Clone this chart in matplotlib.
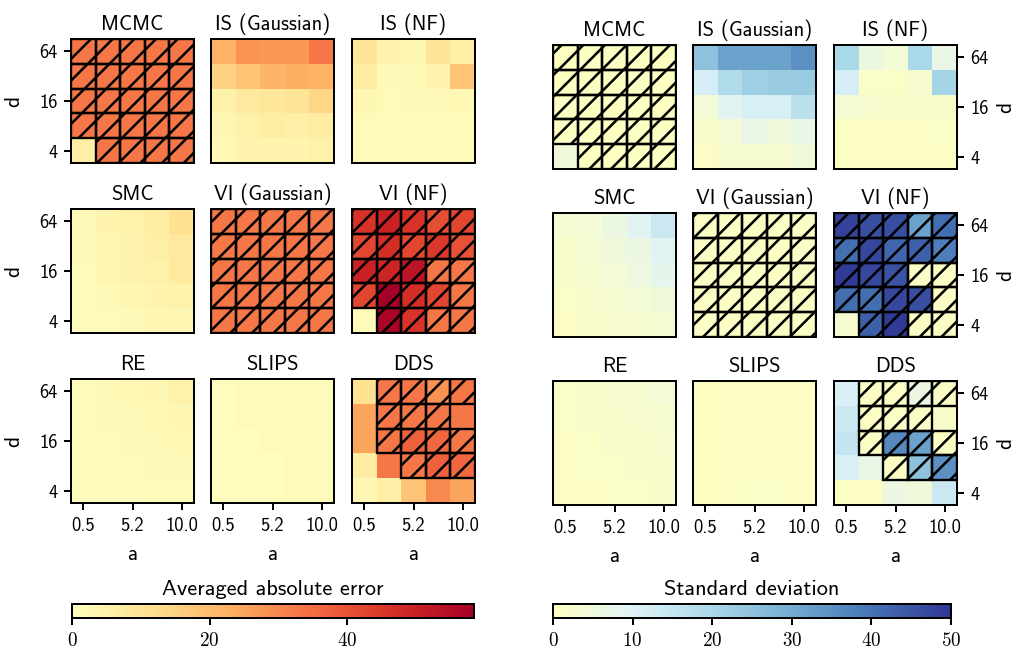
import numpy as np
import matplotlib
matplotlib.use("Agg")
import matplotlib.pyplot as plt
from matplotlib.colors import LinearSegmentedColormap
from matplotlib.patches import Rectangle

# axes values
a_ticks = ["0.5", "5.2", "10.0"]   # shown at columns 0, 2, 4
d_ticks = ["64", "16", "4"]        # shown at rows 0, 2, 4 (top row = d=64)

methods = ["MCMC", "IS (Gaussian)", "IS (NF)",
           "SMC", "VI (Gaussian)", "VI (NF)",
           "RE", "SLIPS", "DDS"]

# averaged absolute error, rows from d=64 (top) down to d=4
err_mcmc = [[33, 33, 33, 33, 33],
            [33, 33, 33, 33, 33],
            [33, 33, 33, 33, 33],
            [33, 33, 33, 33, 33],
            [6, 33, 33, 33, 33]]
err_is_gauss = [[22, 28, 27, 27, 33],
                [15, 18, 21, 23, 22],
                [5, 8, 9, 10, 14],
                [3, 5, 7, 6, 7],
                [2, 4, 4, 4, 5]]
err_is_nf = [[10, 4, 3, 10, 6],
             [7, 2, 2, 4, 18],
             [3, 1.5, 2, 2, 2.5],
             [1.5, 1.5, 1.5, 1.5, 1.5],
             [1, 1, 1, 1, 1]]
err_smc = [[2, 4, 5, 7, 11],
           [2, 3, 4, 6, 8],
           [1.5, 3, 4, 5, 8],
           [1.5, 2, 3, 4, 5],
           [1, 1.5, 2, 3, 3]]
err_vi_gauss = [[33, 33, 33, 33, 33],
                [33, 33, 33, 33, 33],
                [33, 33, 33, 33, 33],
                [33, 33, 33, 33, 33],
                [33, 33, 33, 33, 33]]
err_vi_nf = [[46, 50, 46, 41, 42],
             [42, 47, 42, 45, 40],
             [50, 49, 53, 33, 33],
             [42, 58, 47, 42, 33],
             [1, 57, 46, 33, 33]]
err_re = [[1.5, 2, 2.5, 3, 5],
          [1.5, 2, 2, 2.5, 3],
          [1, 1.5, 2, 2, 2.5],
          [1, 1, 1.5, 2, 2],
          [1, 1, 1, 1.5, 1.5]]
err_slips = [[0.8, 1, 1, 1, 1.2],
             [0.8, 1, 1, 1, 1],
             [0.8, 0.8, 1, 1, 1],
             [0.6, 0.8, 0.8, 1, 1],
             [0.6, 0.8, 0.8, 1.5, 1.2]]
err_dds = [[11, 33, 33, 28, 33],
           [25, 33, 33, 33, 33],
           [25, 33, 37, 36, 33],
           [7, 33, 33, 37, 36],
           [3, 6, 18, 30, 25]]

# standard deviation
std_mcmc = [[0.5, 0.5, 0.5, 0.5, 0.5],
            [0.5, 0.5, 0.5, 0.5, 0.5],
            [0.5, 0.5, 0.5, 0.5, 0.5],
            [0.5, 0.5, 0.5, 0.5, 0.5],
            [5, 0.5, 0.5, 0.5, 0.5]]
std_is_gauss = [[25, 32, 32, 32, 35],
                [12, 19, 22, 23, 23],
                [4, 9, 11, 11, 17],
                [2, 4, 7, 5, 7],
                [1, 3, 3, 3, 5]]
std_is_nf = [[20, 6, 4, 20, 7],
             [12, 1.5, 1.5, 2.5, 21],
             [3.5, 2.5, 2, 2, 2],
             [1, 1, 1, 1, 1.5],
             [1, 1, 1, 1, 1]]
std_smc = [[3.5, 4, 6, 9, 14],
           [2, 3.5, 5, 6, 9],
           [2, 3, 4, 5.5, 8],
           [1.5, 2.5, 3, 4, 5],
           [1, 2, 2.5, 3, 3.5]]
std_vi_gauss = [[1, 1, 1, 1, 1],
                [1, 1, 1, 1, 1],
                [1, 1, 1, 1, 1],
                [1, 1, 1, 1, 1],
                [1, 1, 1, 1, 1]]
std_vi_nf = [[48, 46, 46, 32, 41],
             [41, 47, 42, 43, 38],
             [49, 47, 45, 1, 1],
             [41, 41, 47, 46, 1],
             [3, 43, 49, 1, 1]]
std_re = [[1.5, 2, 2.5, 3, 4],
          [1.5, 2, 2, 2.5, 3],
          [1, 1.5, 2, 2, 2.5],
          [1, 1.5, 1.5, 2, 2],
          [1, 1, 1.5, 1.5, 2]]
std_slips = [[0.5, 0.8, 1, 1, 1],
             [0.5, 0.8, 1, 1, 1],
             [0.5, 0.8, 1, 0.8, 1],
             [0.5, 0.8, 0.8, 1, 1],
             [0.5, 0.8, 1.2, 1.2, 1]]
std_dds = [[11, 1, 1, 6, 1.5],
           [14, 1, 1, 1.5, 2],
           [15, 1, 36, 32, 1],
           [11, 7, 1, 25, 35],
           [1, 1, 6, 5, 14]]

# hatched cells (same for both metrics)
hatch_mcmc = [[1, 1, 1, 1, 1],
              [1, 1, 1, 1, 1],
              [1, 1, 1, 1, 1],
              [1, 1, 1, 1, 1],
              [0, 1, 1, 1, 1]]
hatch_vi_gauss = [[1, 1, 1, 1, 1],
                  [1, 1, 1, 1, 1],
                  [1, 1, 1, 1, 1],
                  [1, 1, 1, 1, 1],
                  [1, 1, 1, 1, 1]]
hatch_vi_nf = hatch_mcmc
hatch_dds = [[0, 1, 1, 1, 1],
             [0, 1, 1, 1, 0],
             [0, 1, 1, 1, 1],
             [0, 0, 1, 1, 1],
             [0, 0, 0, 0, 0]]
no_hatch = [[0] * 5 for _ in range(5)]

err_data = [err_mcmc, err_is_gauss, err_is_nf, err_smc, err_vi_gauss,
            err_vi_nf, err_re, err_slips, err_dds]
std_data = [std_mcmc, std_is_gauss, std_is_nf, std_smc, std_vi_gauss,
            std_vi_nf, std_re, std_slips, std_dds]
hatches = [hatch_mcmc, no_hatch, no_hatch, no_hatch, hatch_vi_gauss,
           hatch_vi_nf, no_hatch, no_hatch, hatch_dds]

err_max = 58.4
std_max = 50

# colormaps: upper halves of RdYlBu
err_cmap = LinearSegmentedColormap.from_list(
    "err", plt.get_cmap("RdYlBu_r")(np.linspace(0.5, 1, 256)))
std_cmap = LinearSegmentedColormap.from_list(
    "std", plt.get_cmap("RdYlBu")(np.linspace(0.5, 1, 256)))

plt.rcParams["font.family"] = ["cmss10", "DejaVu Sans"]
plt.rcParams["axes.formatter.use_mathtext"] = True
plt.rcParams["hatch.linewidth"] = 1.4
plt.rcParams["hatch.color"] = "black"

W, H, DPI = 1018, 649, 130
fig = plt.figure(figsize=(W / DPI, H / DPI), dpi=DPI)

def px_axes(x, y, w, h):
    # pixel box (top-left origin) -> figure axes
    return fig.add_axes([x / W, 1 - (y + h) / H, w / W, h / H])

fs_tick = 10.2
fs_title = 11.4
fs_label = 11.8
fs_cbar = 12.4
groups = [
    dict(data=err_data, cmap=err_cmap, vmax=err_max, xs=[71, 211, 352],
         ys=[39, 209, 379], side="left", cbar=[72, 604, 402, 14],
         label="Averaged absolute error", cticks=[0, 20, 40]),
    dict(data=std_data, cmap=std_cmap, vmax=std_max, xs=[553, 693, 834],
         ys=[45, 213, 381], side="right", cbar=[553, 604, 398, 14],
         label="Standard deviation", cticks=[0, 10, 20, 30, 40, 50]),
]

for g in groups:
    im = None
    for k, name in enumerate(methods):
        r, c = divmod(k, 3)
        ax = px_axes(g["xs"][c], g["ys"][r], 123, 124)
        vals = np.array(g["data"][k], dtype=float)
        im = ax.imshow(vals, cmap=g["cmap"], vmin=0, vmax=g["vmax"],
                       aspect="auto", interpolation="nearest")
        mask = np.array(hatches[k])
        for i in range(5):
            for j in range(5):
                if mask[i, j]:
                    ax.add_patch(Rectangle((j - 0.5, i - 0.5), 1, 1, fill=False,
                                           hatch="//", edgecolor="black", lw=1.3))
        ax.set_title(name, fontsize=fs_title, pad=5)
        for s in ax.spines.values():
            s.set_linewidth(1.1)
        ax.tick_params(width=1.1, length=4, labelsize=fs_tick)
        # x ticks only on bottom row
        if r == 2:
            ax.set_xticks([0, 2, 4])
            ax.set_xticklabels(a_ticks)
            ax.set_xlabel("a", fontsize=fs_label, labelpad=6)
        else:
            ax.set_xticks([])
        # y ticks on outer column
        if g["side"] == "left" and c == 0:
            ax.set_yticks([0, 2, 4])
            ax.set_yticklabels(d_ticks)
            ax.set_ylabel("d", fontsize=fs_label, labelpad=9)
        elif g["side"] == "right" and c == 2:
            ax.yaxis.tick_right()
            ax.yaxis.set_label_position("right")
            ax.set_yticks([0, 2, 4])
            ax.set_yticklabels(d_ticks)
            ax.set_ylabel("d", fontsize=fs_label, labelpad=4)
        else:
            ax.set_yticks([])

    cax = px_axes(*g["cbar"])
    cb = fig.colorbar(im, cax=cax, orientation="horizontal")
    cb.outline.set_linewidth(1.1)
    cb.set_ticks(g["cticks"])
    cax.tick_params(width=1.1, length=4)
    for t in cax.get_xticklabels():
        t.set_fontfamily("cmr10")
        t.set_fontsize(fs_tick + 0.4)
    cax.set_title(g["label"], fontsize=fs_cbar, pad=5)

fig.savefig("out.png", dpi=DPI)
